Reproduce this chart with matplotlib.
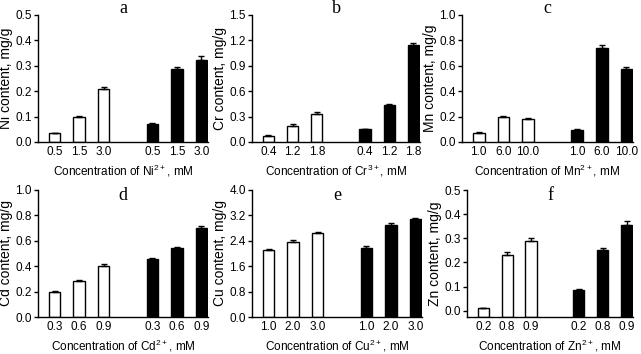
import matplotlib
matplotlib.use("Agg")
import matplotlib.pyplot as plt
import numpy as np

plt.rcParams['font.family'] = ['Liberation Sans', 'DejaVu Sans']
plt.rcParams['mathtext.default'] = 'regular'

panel_letters = ['a', 'b', 'c', 'd', 'e', 'f']
metals = ['Ni', 'Cr', 'Mn', 'Cd', 'Cu', 'Zn']
charges = ['2+', '3+', '2+', '2+', '2+', '2+']
conc_labels = [
    ['0.5', '1.5', '3.0'],
    ['0.4', '1.2', '1.8'],
    ['1.0', '6.0', '10.0'],
    ['0.3', '0.6', '0.9'],
    ['1.0', '2.0', '3.0'],
    ['0.2', '0.8', '0.9'],
]
white_vals = [
    [0.035, 0.097, 0.207],
    [0.075, 0.185, 0.325],
    [0.072, 0.198, 0.182],
    [0.195, 0.280, 0.405],
    [2.10, 2.36, 2.64],
    [0.010, 0.230, 0.288],
]
white_err = [
    [0.002, 0.004, 0.010],
    [0.005, 0.025, 0.035],
    [0.003, 0.006, 0.005],
    [0.006, 0.010, 0.015],
    [0.03, 0.05, 0.03],
    [0.002, 0.012, 0.014],
]
black_vals = [
    [0.070, 0.287, 0.322],
    [0.150, 0.440, 1.145],
    [0.098, 0.740, 0.575],
    [0.455, 0.540, 0.700],
    [2.16, 2.90, 3.08],
    [0.085, 0.250, 0.355],
]
black_err = [
    [0.003, 0.007, 0.016],
    [0.006, 0.010, 0.020],
    [0.004, 0.025, 0.015],
    [0.010, 0.015, 0.020],
    [0.09, 0.06, 0.04],
    [0.003, 0.010, 0.015],
]
y_max = [0.5, 1.5, 1.0, 1.0, 4.0, 0.5]
y_step = [0.1, 0.3, 0.2, 0.2, 0.8, 0.1]
y_bottom = [0, 0, 0, 0, 0, -0.026]

W, H = 641, 354
fig = plt.figure(figsize=(W / 100, H / 100), dpi=100)

# pixel boxes: left, right, top, bottom
boxes = [
    (38, 208, 15, 142),
    (252, 420, 15, 142),
    (462, 633, 15, 142),
    (38, 208, 190, 317),
    (252, 422, 190, 317),
    (467, 633, 190, 317),
]
letter_offset = [6, 6, 6, -5, -5, -5]

pos_white = np.array([0, 1, 2])
pos_black = np.array([4, 5, 6])
bw = 0.47
fs = 8.5

for i in range(6):
    l, r, t, b = boxes[i]
    ax = fig.add_axes([l / W, 1 - b / H, (r - l) / W, (b - t) / H])
    base = y_bottom[i]
    ekw = dict(ecolor='black', elinewidth=1.0, capsize=2, capthick=1.0)
    ax.bar(pos_white, np.array(white_vals[i]) - base, bottom=base, width=bw,
           color='white', edgecolor='black', linewidth=1.0,
           yerr=[np.zeros(3), white_err[i]], error_kw=ekw)
    ax.bar(pos_black, np.array(black_vals[i]) - base, bottom=base, width=bw,
           color='black', edgecolor='black', linewidth=1.0,
           yerr=[np.zeros(3), black_err[i]], error_kw=ekw)
    ax.set_xlim(-0.68, 6.27)
    ax.set_ylim(base, y_max[i])
    ticks = np.arange(0, y_max[i] + y_step[i] / 2, y_step[i])
    ax.set_yticks(ticks)
    ax.set_yticklabels([f'{v:.1f}' for v in ticks])
    ax.set_xticks(list(pos_white) + list(pos_black))
    ax.set_xticklabels(conc_labels[i] * 2)
    ax.tick_params(axis='x', length=0, labelsize=fs, pad=3)
    ax.tick_params(axis='y', length=3, width=1, direction='out', labelsize=fs, pad=1.5)
    for s in ['top', 'right']:
        ax.spines[s].set_visible(False)
    for s in ['left', 'bottom']:
        ax.spines[s].set_linewidth(1.0)
    ax.set_ylabel(f'{metals[i]} content, mg/g', fontsize=10, labelpad=1.5)
    ax.set_xlabel(f'Concentration of {metals[i]}$^{{{charges[i]}}}$, mM',
                  fontsize=fs, labelpad=3.5)
    ax.annotate(panel_letters[i], xy=(0.5, 1.0), xycoords='axes fraction',
                xytext=(0, letter_offset[i] * 72 / 100), textcoords='offset points',
                ha='center', va='center', fontsize=13, family='Liberation Serif')

fig.savefig('out.png', dpi=100)
